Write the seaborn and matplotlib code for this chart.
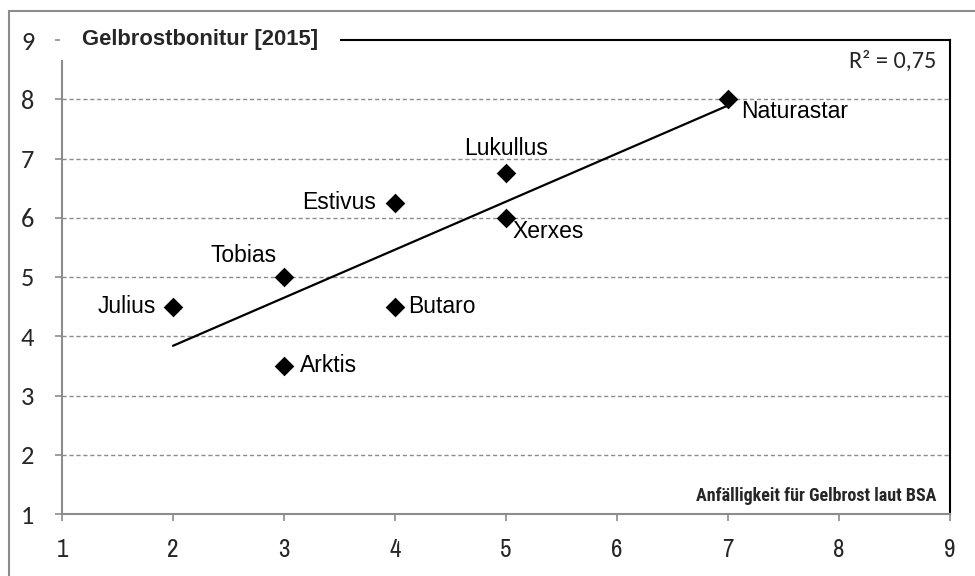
import numpy as np
import pandas as pd
import matplotlib
matplotlib.use('Agg')
import matplotlib.pyplot as plt
import matplotlib.patches as patches
import seaborn as sns

# data
sorten = ['Julius', 'Tobias', 'Arktis', 'Butaro', 'Estivus', 'Lukullus', 'Xerxes', 'Naturastar']
bsa_note = [2, 3, 3, 4, 4, 5, 5, 7]
bonitur = [4.5, 5.0, 3.5, 4.5, 6.25, 6.75, 6.0, 8.0]
# label offsets in pixels (dx, dy) and alignment
label_pos = {
    'Julius': (-17, 0, 'right', 'center'),
    'Tobias': (-7, 21, 'right', 'center'),
    'Arktis': (16, 0, 'left', 'center'),
    'Butaro': (13, 0, 'left', 'center'),
    'Estivus': (-19, 0, 'right', 'center'),
    'Lukullus': (0, 25, 'center', 'center'),
    'Xerxes': (6, -14, 'left', 'center'),
    'Naturastar': (13, -12, 'left', 'center'),
}

df = pd.DataFrame({'sorte': sorten, 'bsa': bsa_note, 'bonitur': bonitur})

sns.set_style('white')
plt.rcParams['font.family'] = ['Liberation Sans', 'DejaVu Sans']

fig = plt.figure(figsize=(9.75, 5.76), dpi=100)
ax = fig.add_axes([62 / 975, 62 / 576, 888 / 975, 474 / 576])

# outer chart border
fig.patches.append(patches.Rectangle((8.5 / 975, -0.1), 1.1, 1.1 - 11.5 / 576,
                                     transform=fig.transFigure, fill=False,
                                     edgecolor='#8c8c8c', lw=1.5))

# dashed grid lines
for yv in range(2, 9):
    ax.axhline(yv, color='#8c8c8c', lw=1, ls=(0, (3, 2)), zorder=1)

sns.regplot(data=df, x='bsa', y='bonitur', scatter=False, ci=None, truncate=True,
            color='black', line_kws={'lw': 1.6, 'zorder': 3}, ax=ax)
sns.scatterplot(data=df, x='bsa', y='bonitur', marker='D', s=100, color='black',
                edgecolor='black', linewidth=0, zorder=4, ax=ax)

for name, xv, yv in zip(sorten, bsa_note, bonitur):
    dx, dy, ha, va = label_pos[name]
    ax.annotate(name, (xv, yv), xytext=(dx * 0.72, dy * 0.72), textcoords='offset points',
                ha=ha, va=va, fontsize=16.5, color='black', zorder=5)

# r squared
x = np.array(bsa_note, dtype=float)
y = np.array(bonitur, dtype=float)
r2 = np.corrcoef(x, y)[0, 1] ** 2
ax.text(0.985, 0.955, 'R² = ' + f'{r2:.2f}'.replace('.', ','), transform=ax.transAxes,
        ha='right', va='center', fontsize=17.5, family='Carlito')

ax.set_xlim(1, 9)
ax.set_ylim(1, 9)
ax.set_xticks(range(1, 10))
ax.set_yticks(range(1, 10))
ax.set_xlabel('')
ax.set_ylabel('')

for s in ['left', 'bottom']:
    ax.spines[s].set_color('#8c8c8c')
    ax.spines[s].set_linewidth(1.5)
for s in ['top', 'right']:
    ax.spines[s].set_color('black')
    ax.spines[s].set_linewidth(1.5)

ax.tick_params(axis='y', direction='out', length=5, width=1.2, color='#8c8c8c', pad=15, left=True)
ax.tick_params(axis='x', direction='out', length=5, width=1.2, color='#8c8c8c', pad=12, bottom=True)
for lab in ax.get_yticklabels():
    lab.set_family('Carlito')
    lab.set_fontsize(19)
for lab in ax.get_xticklabels():
    lab.set_family('Archivo Narrow')
    lab.set_fontsize(18)

# title box hides part of the top and left spines
ax.add_patch(patches.Rectangle((-0.002, 0.958), 0.315, 0.08, transform=ax.transAxes,
                               facecolor='white', edgecolor='none', clip_on=False, zorder=6))
ax.text(20 / 888, 1.0, 'Gelbrostbonitur [2015]', transform=ax.transAxes, ha='left', va='center',
        fontsize=15.8, fontweight='bold', zorder=7)
ax.text(0.985, 0.038, 'Anfälligkeit für Gelbrost laut BSA', transform=ax.transAxes,
        ha='right', va='center', fontsize=13, fontweight='bold',
        family='Roboto Condensed', zorder=7)

fig.savefig('out.png', dpi=100)
